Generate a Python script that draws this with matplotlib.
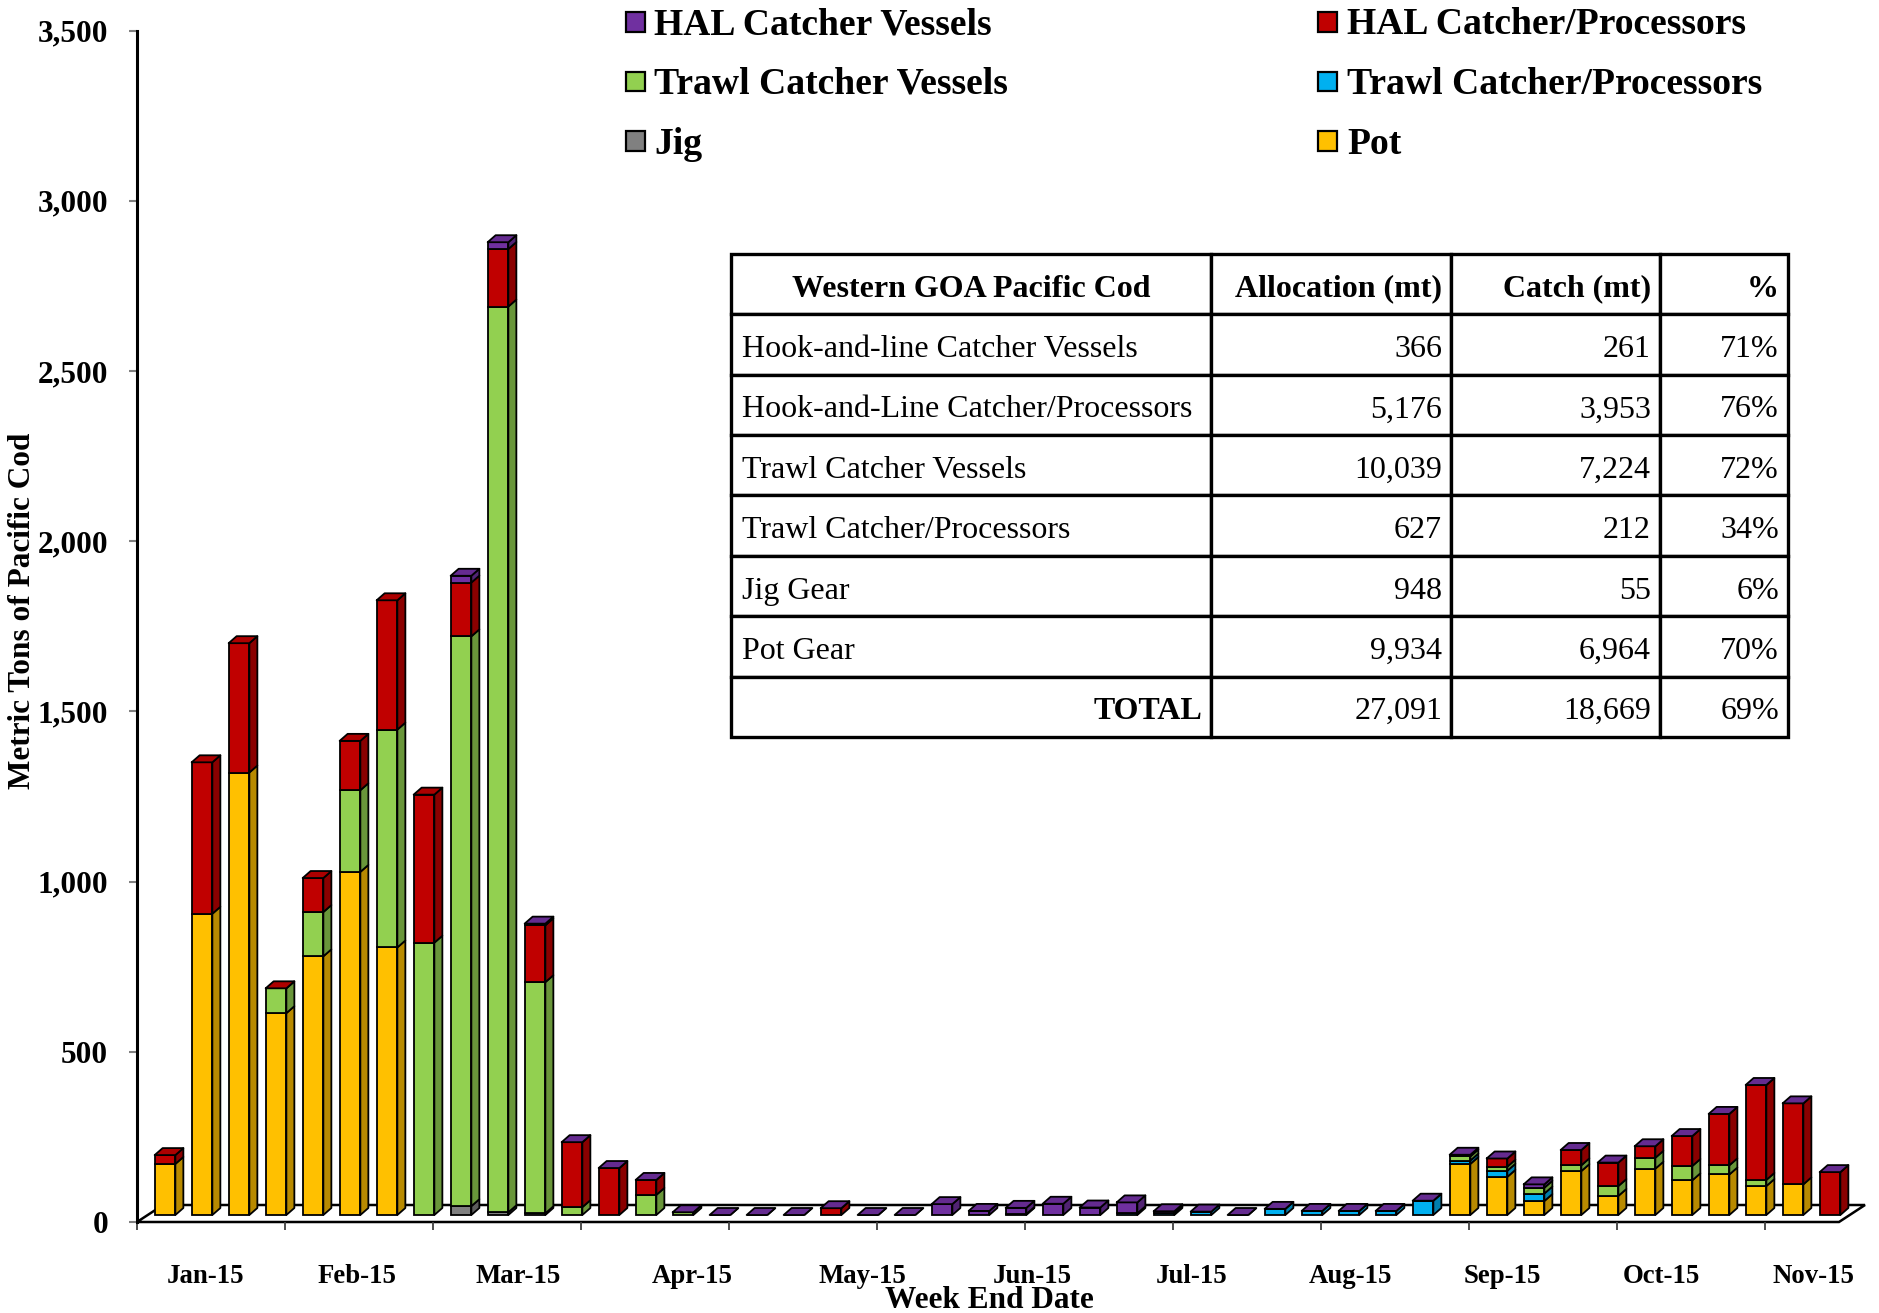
import numpy as np
import matplotlib
matplotlib.use("Agg")
import matplotlib.pyplot as plt
from matplotlib.patches import Polygon, Rectangle
from matplotlib.collections import PolyCollection
from matplotlib.transforms import ScaledTranslation
from matplotlib.ticker import FuncFormatter, FixedLocator, NullFormatter
from matplotlib import colors as mcolors

nan = np.nan

# ---------------- data (metric tons, weekly, Jan-Nov 2015) ----------------
pot = [150, 885, 1300, 593, 760, 1008, 786] + [nan] * 28 + \
      [150, 112, 41, 129, 56, 136, 102, 119, 85, 90, nan]
jig = [nan] * 8 + [26, 8, 5] + [nan] * 35
trawl_cp = [nan] * 23 + [3, nan, nan, 5, 5, 10, nan, 18, 12, 12, 12, 42, 10, 18, 22] + [nan] * 8
trawl_cv = [nan, nan, nan, 73, 130, 240, 640, 800, 1674, 2661, 679, 23, nan, 59, 8] + \
           [nan] * 20 + [12, 12, 17, 17, 29, 32, 42, 27, 18, nan, nan]
hal_cp = [26, 445, 380, 0, 100, 145, 380, 435, 158, 169, 167, 191, 138, 44,
          nan, nan, nan, nan, 20] + [nan] * 17 + [24, nan, 45, 69, 34, 88, 151, 279, 238, 126]
hal_cv = [nan] * 8 + [20, 20, 5, 0, 0, 0, 0, 0, 0, 0, 0, 0, 0, 32, 12, 18, 33, 22, 32, 6,
                      0, 0, 0, 0, 0, 0, 0, 5, 0, 10, 0, 0, 0, 0, 0, 0, 0, 0]

month_labels = ['Jan-15', 'Feb-15', 'Mar-15', 'Apr-15', 'May-15', 'Jun-15',
                'Jul-15', 'Aug-15', 'Sep-15', 'Oct-15', 'Nov-15']
month_pos = [1.36, 5.45, 9.8, 14.5, 19.1, 23.7, 28.0, 32.3, 36.4, 40.7, 44.8]

series_names = ['Pot', 'Jig', 'Trawl Catcher/Processors', 'Trawl Catcher Vessels',
                'HAL Catcher/Processors', 'HAL Catcher Vessels']
series_vals = [pot, jig, trawl_cp, trawl_cv, hal_cp, hal_cv]
series_cols = ['#FFC000', '#808080', '#00B0F0', '#92D050', '#C00000', '#7030A0']

legend_order = ['HAL Catcher Vessels', 'HAL Catcher/Processors',
                'Trawl Catcher Vessels', 'Trawl Catcher/Processors', 'Jig', 'Pot']

table_header = ['Western GOA Pacific Cod', 'Allocation (mt)', 'Catch (mt)', '%']
table_rows = ['Hook-and-line Catcher Vessels', 'Hook-and-Line Catcher/Processors',
              'Trawl Catcher Vessels', 'Trawl Catcher/Processors', 'Jig Gear',
              'Pot Gear', 'TOTAL']
table_alloc = [366, 5176, 10039, 627, 948, 9934, 27091]
table_catch = [261, 3953, 7224, 212, 55, 6964, 18669]
table_pct = ['71%', '76%', '72%', '34%', '6%', '70%', '69%']

for s in series_vals:
    assert len(s) == 46

# ---------------- figure ----------------
FONT = 'Liberation Serif'
plt.rcParams['font.family'] = [FONT, 'DejaVu Serif']
W, H = 1879, 1313
fig = plt.figure(figsize=(W / 100, H / 100), dpi=100)

N = len(pot)
ax_l, ax_r, ax_t, ax_b = 137, 1839, 30.7, 1222
ax = fig.add_axes([ax_l / W, 1 - ax_b / H, (ax_r - ax_l) / W, (ax_b - ax_t) / H])
ax.set_xlim(-0.5, N - 0.5)
ax.set_ylim(0, 3500)
px_cat = (ax_r - ax_l) / N
px_t = (ax_b - ax_t) / 3500.0

# pseudo-3D geometry (pixel sizes converted to data units)
ddx, ddy = 8 / px_cat, 7 / px_t           # bar depth
fdx, fdy = 26 / px_cat, 17 / px_t          # floor depth
bar_w = 0.56
T = ax.transData + ScaledTranslation(9.5 / 100, 7 / 100, fig.dpi_scale_trans)


def shade(c, f):
    r, g, b = mcolors.to_rgb(c)
    return (r * f, g * f, b * f)


# floor
floor = Polygon([(-0.5, 0), (N - 0.5, 0), (N - 0.5 + fdx, fdy), (-0.5 + fdx, fdy)],
                closed=True, facecolor='white', edgecolor='black', linewidth=1.8,
                transform=ax.transData, zorder=1, clip_on=False)
ax.add_patch(floor)

x = np.arange(N)
bottom = np.zeros(N)
top_col = [None] * N
side_polys, side_cols = [], []
for vals, col in zip(series_vals, series_cols):
    v = np.array(vals, dtype=float)
    m = ~np.isnan(v)
    ax.bar(x[m], v[m], bottom=bottom[m], width=bar_w, color=col, edgecolor='black',
           linewidth=1.3, transform=T, zorder=3, clip_on=False)
    for i in np.where(m)[0]:
        xr = i + bar_w / 2
        b0 = bottom[i]
        b1 = b0 + v[i]
        side_polys.append([(xr, b0), (xr + ddx, b0 + ddy), (xr + ddx, b1 + ddy), (xr, b1)])
        side_cols.append(shade(col, 0.72))
        top_col[i] = col
    bottom[m] += v[m]

top_polys, top_cols = [], []
for i in range(N):
    if top_col[i] is None:
        continue
    t = bottom[i]
    xl, xr = i - bar_w / 2, i + bar_w / 2
    top_polys.append([(xl, t), (xr, t), (xr + ddx, t + ddy), (xl + ddx, t + ddy)])
    top_cols.append(shade(top_col[i], 0.9))

ax.add_collection(PolyCollection(side_polys, facecolors=side_cols, edgecolors='black',
                                 linewidths=1.3, transform=T, zorder=3, clip_on=False))
ax.add_collection(PolyCollection(top_polys, facecolors=top_cols, edgecolors='black',
                                 linewidths=1.3, transform=T, zorder=3, clip_on=False))

# axes styling
for sp in ['top', 'right', 'bottom']:
    ax.spines[sp].set_visible(False)
ax.spines['left'].set_linewidth(2.2)
ax.spines['left'].set_zorder(2)

ax.set_yticks(np.arange(0, 3501, 500))
ax.yaxis.set_major_formatter(FuncFormatter(lambda v, p: f"{int(v):,}"))
ax.tick_params(axis='y', length=5.8, width=1.5, color='#808080', pad=15,
               labelsize=22.5)
for lab in ax.get_yticklabels():
    lab.set_fontweight('bold')

ax.xaxis.set_major_locator(FixedLocator(np.arange(-0.5, N - 1, 4)))
ax.xaxis.set_major_formatter(NullFormatter())
ax.set_xticks(month_pos, month_labels, minor=True)
ax.tick_params(axis='x', which='major', length=6, width=1.3, color='#404040')
ax.tick_params(axis='x', which='minor', length=0, pad=30, labelsize=19.3)
for lab in ax.get_xticklabels(minor=True):
    lab.set_fontweight('bold')

ax.set_ylabel('Metric Tons of Pacific Cod', fontsize=22.5, fontweight='bold')
ax.yaxis.set_label_coords((23 - ax_l) / (ax_r - ax_l), (ax_b - 611) / (ax_b - ax_t))
ax.yaxis.label.set_va('center')
fig.text(989 / W, 5 / H, 'Week End Date', fontsize=22.5, fontweight='bold',
         ha='center', va='baseline')

# legend (2 columns, row-major)
col_lookup = dict(zip(series_names, series_cols))
mark_x = [626, 1318]
text_x = [654, 1347]
row_c = [22, 81.5, 141]
for k, name in enumerate(legend_order):
    r, c = divmod(k, 2)
    sz = 19
    fig.patches.append(Rectangle(((mark_x[c]) / W, 1 - (row_c[r] + sz / 2) / H),
                                 sz / W, sz / H, transform=fig.transFigure,
                                 facecolor=col_lookup[name], edgecolor='black',
                                 linewidth=1.6))
    fig.text(text_x[c] / W, 1 - (row_c[r] + 12.5) / H, name, fontsize=27.1,
             fontweight='bold', ha='left', va='baseline')

# table
tl, tr, tt, tb = 731, 1788, 254, 737
col_px = [480, 240, 209, 128]
tax = fig.add_axes([tl / W, 1 - tb / H, (tr - tl) / W, (tb - tt) / H])
tax.axis('off')
cell_text = [[r, f"{a:,}", f"{c:,}", p] for r, a, c, p in
             zip(table_rows, table_alloc, table_catch, table_pct)]
tw = sum(col_px)
tbl = tax.table(cellText=cell_text, colLabels=table_header,
                colWidths=[c / tw for c in col_px], bbox=[0, 0, 1, 1],
                cellLoc='right', colLoc='right')
tbl.auto_set_font_size(False)
shift = ScaledTranslation(0, -5 / 100, fig.dpi_scale_trans)
for (r, c), cell in tbl.get_celld().items():
    cell.set_linewidth(2.4)
    cell.set_edgecolor('black')
    txt = cell.get_text()
    txt.set_fontsize(23)
    txt.set_fontfamily(FONT)
    txt.set_transform(shift)
    cell.PAD = 9 / col_px[c]
    if r == 0:
        txt.set_fontweight('bold')
        if c == 0:
            txt.set_ha('center')
    elif c == 0:
        if txt.get_text() == 'TOTAL':
            txt.set_fontweight('bold')
            txt.set_ha('right')
        else:
            txt.set_ha('left')
            cell.PAD = 11 / col_px[c]

fig.savefig('out.png', dpi=100, facecolor='white')
